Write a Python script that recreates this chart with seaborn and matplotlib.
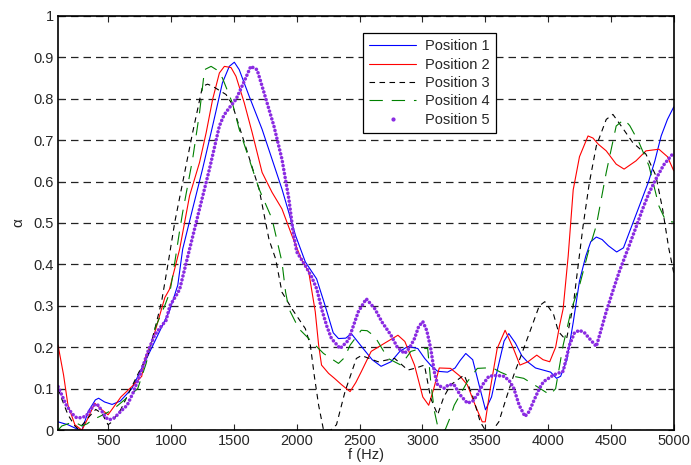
import numpy as np
import pandas as pd
import matplotlib
matplotlib.use('Agg')
import matplotlib.pyplot as plt
from matplotlib.lines import Line2D
import seaborn as sns

sns.set_style("ticks")
plt.rcParams['font.family'] = ['Liberation Sans', 'DejaVu Sans']

# Position 1 (blue)
f1 = [100, 179, 250, 290, 340, 397, 423, 470, 530, 595, 687, 792, 895, 990, 1053, 1092, 1171, 1250,
      1330, 1408, 1463, 1503, 1542, 1621, 1724, 1803, 1882, 1990, 2068, 2158, 2226, 2290, 2332, 2390,
      2434, 2520, 2600, 2671, 2750, 2820, 2884, 2963, 3018, 3070, 3121, 3200, 3260, 3300, 3345, 3400,
      3450, 3502, 3550, 3600, 3650, 3687, 3740, 3790, 3832, 3900, 3960, 4020, 4068, 4100, 4150, 4200,
      4250, 4300, 4340, 4384, 4430, 4480, 4546, 4600, 4650, 4700, 4750, 4800, 4850, 4900, 4950, 5000]
a1 = [0.02, 0.013, 0.003, 0.0, 0.045, 0.073, 0.077, 0.068, 0.062, 0.07, 0.1, 0.165, 0.23, 0.29, 0.35,
      0.437, 0.534, 0.63, 0.734, 0.838, 0.878, 0.888, 0.87, 0.806, 0.726, 0.654, 0.582, 0.47, 0.406,
      0.365, 0.30, 0.235, 0.221, 0.222, 0.233, 0.2, 0.17, 0.154, 0.165, 0.19, 0.202, 0.197, 0.173,
      0.155, 0.142, 0.14, 0.15, 0.168, 0.185, 0.17, 0.11, 0.049, 0.08, 0.15, 0.215, 0.233, 0.21, 0.18,
      0.166, 0.15, 0.145, 0.14, 0.125, 0.13, 0.17, 0.26, 0.36, 0.42, 0.455, 0.466, 0.46, 0.445, 0.43,
      0.44, 0.48, 0.52, 0.56, 0.6, 0.65, 0.71, 0.75, 0.78]

# Position 2 (red)
f2 = [100, 144, 179, 234, 290, 340, 392, 445, 498, 553, 600, 687, 766, 792, 830, 871, 950, 987, 1068,
      1147, 1226, 1279, 1330, 1384, 1424, 1477, 1516, 1582, 1645, 1724, 1803, 1882, 1961, 2040, 2095,
      2147, 2174, 2197, 2253, 2300, 2355, 2424, 2470, 2515, 2592, 2700, 2805, 2860, 2937, 3003, 3050,
      3090, 3134, 3224, 3300, 3358, 3420, 3476, 3500, 3540, 3595, 3658, 3724, 3776, 3840, 3910, 3960,
      4013, 4060, 4092, 4120, 4160, 4200, 4250, 4318, 4357, 4400, 4463, 4542, 4605, 4700, 4779, 4882,
      4950, 5000]
a2 = [0.205, 0.133, 0.06, 0.013, 0.0, 0.03, 0.065, 0.05, 0.037, 0.06, 0.08, 0.105, 0.13, 0.173, 0.2,
      0.237, 0.32, 0.34, 0.437, 0.566, 0.646, 0.718, 0.798, 0.862, 0.878, 0.875, 0.854, 0.79, 0.718,
      0.622, 0.574, 0.534, 0.47, 0.41, 0.382, 0.286, 0.205, 0.157, 0.137, 0.125, 0.11, 0.093, 0.115,
      0.142, 0.19, 0.21, 0.229, 0.214, 0.157, 0.08, 0.06, 0.1, 0.15, 0.149, 0.13, 0.109, 0.06, 0.02,
      0.02, 0.1, 0.197, 0.241, 0.197, 0.157, 0.165, 0.181, 0.17, 0.165, 0.2, 0.253, 0.293, 0.42, 0.58,
      0.66, 0.71, 0.705, 0.69, 0.674, 0.642, 0.63, 0.65, 0.674, 0.678, 0.66, 0.626]

# Position 3 (black dashed)
f3 = [100, 130, 179, 234, 260, 300, 340, 400, 450, 498, 530, 600, 687, 760, 816, 871, 924, 980, 1029,
      1092, 1171, 1250, 1290, 1330, 1437, 1487, 1566, 1700, 1779, 1832, 1882, 1961, 2068, 2108, 2140,
      2174, 2213, 2270, 2316, 2384, 2474, 2515, 2647, 2779, 2884, 2950, 3016, 3066, 3121, 3170, 3224,
      3332, 3397, 3460, 3500, 3560, 3608, 3670, 3727, 3806, 3870, 3930, 3974, 4013, 4043, 4082, 4120,
      4147, 4200, 4226, 4279, 4329, 4384, 4463, 4516, 4582, 4674, 4779, 4858, 4911, 4960, 5000]
a3 = [0.1, 0.075, 0.037, 0.01, 0.003, 0.015, 0.03, 0.05, 0.04, 0.013, 0.02, 0.05, 0.105, 0.15, 0.181,
      0.245, 0.31, 0.41, 0.502, 0.598, 0.718, 0.83, 0.835, 0.83, 0.81, 0.786, 0.71, 0.582, 0.46, 0.413,
      0.333, 0.293, 0.245, 0.205, 0.13, 0.06, 0.0, 0.0, 0.013, 0.093, 0.173, 0.18, 0.165, 0.173, 0.145,
      0.15, 0.157, 0.077, 0.037, 0.08, 0.109, 0.133, 0.085, 0.02, 0.0, 0.0, 0.02, 0.08, 0.133, 0.197,
      0.25, 0.3, 0.31, 0.293, 0.28, 0.238, 0.225, 0.22, 0.3, 0.365, 0.494, 0.598, 0.686, 0.75, 0.762,
      0.734, 0.694, 0.666, 0.614, 0.534, 0.44, 0.38]

# Position 4 (green long dash)
f4 = [100, 130, 195, 247, 290, 330, 376, 432, 534, 577, 644, 734, 800, 871, 950, 990, 1013, 1066, 1092,
      1171, 1226, 1266, 1318, 1360, 1408, 1487, 1542, 1621, 1700, 1803, 1882, 1911, 1937, 2016, 2095,
      2213, 2332, 2380, 2424, 2513, 2560, 2621, 2726, 2829, 2908, 2987, 3042, 3066, 3095, 3121, 3180,
      3220, 3253, 3358, 3437, 3500, 3560, 3620, 3674, 3806, 3934, 3990, 4013, 4060, 4120, 4187, 4250,
      4320, 4384, 4463, 4542, 4605, 4650, 4724, 4803, 4882, 4937, 5000]
a4 = [0.0, 0.01, 0.017, 0.017, 0.01, 0.015, 0.025, 0.033, 0.049, 0.06, 0.077, 0.1, 0.16, 0.245, 0.301,
      0.333, 0.373, 0.478, 0.526, 0.654, 0.766, 0.87, 0.878, 0.87, 0.85, 0.79, 0.726, 0.654, 0.582,
      0.51, 0.406, 0.333, 0.293, 0.245, 0.221, 0.185, 0.161, 0.175, 0.205, 0.241, 0.24, 0.226, 0.173,
      0.157, 0.19, 0.197, 0.197, 0.117, 0.046, 0.01, 0.0, 0.03, 0.06, 0.117, 0.149, 0.15, 0.15, 0.14,
      0.133, 0.125, 0.101, 0.09, 0.085, 0.1, 0.205, 0.293, 0.349, 0.43, 0.494, 0.622, 0.734, 0.75,
      0.735, 0.694, 0.638, 0.541, 0.505, 0.502]

# Position 5 (purple dots)
f5 = [100, 166, 210, 247, 290, 326, 360, 392, 420, 450, 480, 510, 550, 601, 650, 697, 760, 816, 870,
      920, 960, 990, 1040, 1068, 1147, 1226, 1305, 1384, 1420, 1463, 1516, 1582, 1634, 1684, 1739,
      1818, 1882, 1937, 1970, 2000, 2068, 2118, 2160, 2197, 2240, 2276, 2345, 2411, 2460, 2490, 2553,
      2621, 2680, 2750, 2800, 2858, 2900, 2937, 2970, 3003, 3035, 3066, 3095, 3121, 3174, 3210, 3253,
      3300, 3358, 3400, 3437, 3480, 3529, 3590, 3647, 3690, 3727, 3770, 3816, 3850, 3885, 3930, 3964,
      4043, 4120, 4170, 4210, 4250, 4290, 4329, 4384, 4420, 4463, 4520, 4566, 4645, 4700, 4753, 4800,
      4858, 4920, 4990, 5000]
a5 = [0.105, 0.06, 0.04, 0.03, 0.03, 0.035, 0.05, 0.062, 0.06, 0.045, 0.03, 0.025, 0.03, 0.046, 0.06,
      0.09, 0.14, 0.19, 0.23, 0.25, 0.265, 0.3, 0.325, 0.34, 0.437, 0.534, 0.63, 0.734, 0.76, 0.778,
      0.798, 0.842, 0.878, 0.87, 0.815, 0.734, 0.654, 0.558, 0.48, 0.43, 0.397, 0.37, 0.34, 0.293, 0.25,
      0.221, 0.197, 0.217, 0.26, 0.286, 0.317, 0.293, 0.26, 0.229, 0.2, 0.185, 0.2, 0.221, 0.25, 0.262,
      0.24, 0.197, 0.14, 0.109, 0.101, 0.11, 0.109, 0.085, 0.065, 0.07, 0.085, 0.11, 0.13, 0.132, 0.13,
      0.12, 0.101, 0.06, 0.033, 0.045, 0.07, 0.1, 0.117, 0.133, 0.142, 0.205, 0.235, 0.241, 0.235,
      0.221, 0.202, 0.24, 0.286, 0.34, 0.382, 0.445, 0.49, 0.534, 0.57, 0.606, 0.64, 0.666, 0.668]

labels = ['Position 1', 'Position 2', 'Position 3', 'Position 4', 'Position 5']

fig = plt.figure(figsize=(6.91, 4.65), dpi=100)
ax = fig.add_axes([0.084, 0.075, 0.891, 0.891])

sns.lineplot(x=f1, y=a1, ax=ax, color='#0000ff', linewidth=0.8, sort=False)
sns.lineplot(x=f2, y=a2, ax=ax, color='#ff0000', linewidth=0.8, sort=False)
sns.lineplot(x=f3, y=a3, ax=ax, color='black', linewidth=0.8, linestyle=(0, (5, 4)), sort=False)
sns.lineplot(x=f4, y=a4, ax=ax, color='#008000', linewidth=0.8, linestyle=(0, (12, 8)), sort=False)
sns.lineplot(x=f5, y=a5, ax=ax, color='#8a2be2', linewidth=2.6, linestyle=(0, (0.01, 1.1)),
             dash_capstyle='round', sort=False)

ax.set_xlim(100, 5000)
ax.set_ylim(0, 1)
ax.set_xticks(np.arange(500, 5001, 500))
ax.set_yticks(np.arange(0, 1.01, 0.1))
ax.set_yticklabels(['0', '0.1', '0.2', '0.3', '0.4', '0.5', '0.6', '0.7', '0.8', '0.9', '1'])
ax.tick_params(direction='in', top=True, right=True, labelsize=10.5, length=4, width=0.8, pad=3)
ax.yaxis.grid(True, linestyle=(0, (6, 4)), color='#222222', linewidth=0.9)
for s in ax.spines.values():
    s.set_visible(True)
    s.set_linewidth(1.2)
    s.set_color('black')

ax.set_xlabel('f (Hz)', fontsize=10.5, labelpad=0)
ax.set_ylabel('α', fontsize=11, labelpad=6)

handles = [
    Line2D([], [], color='#0000ff', linewidth=0.8),
    Line2D([], [], color='#ff0000', linewidth=0.8),
    Line2D([], [], color='black', linewidth=0.8, linestyle=(0, (5, 4))),
    Line2D([], [], color='#008000', linewidth=0.8, linestyle=(0, (12, 8))),
    Line2D([], [], color='#8a2be2', linestyle='none', marker='.', markersize=4),
]
leg = ax.legend(handles, labels, loc='upper left', bbox_to_anchor=(0.495, 0.959), borderaxespad=0,
                fontsize=10.5, frameon=True, fancybox=False, framealpha=1, edgecolor='black',
                handlelength=3.2, labelspacing=0.3, borderpad=0.45, handletextpad=0.6)
leg.get_frame().set_linewidth(0.9)

fig.savefig('out.png', dpi=100)
